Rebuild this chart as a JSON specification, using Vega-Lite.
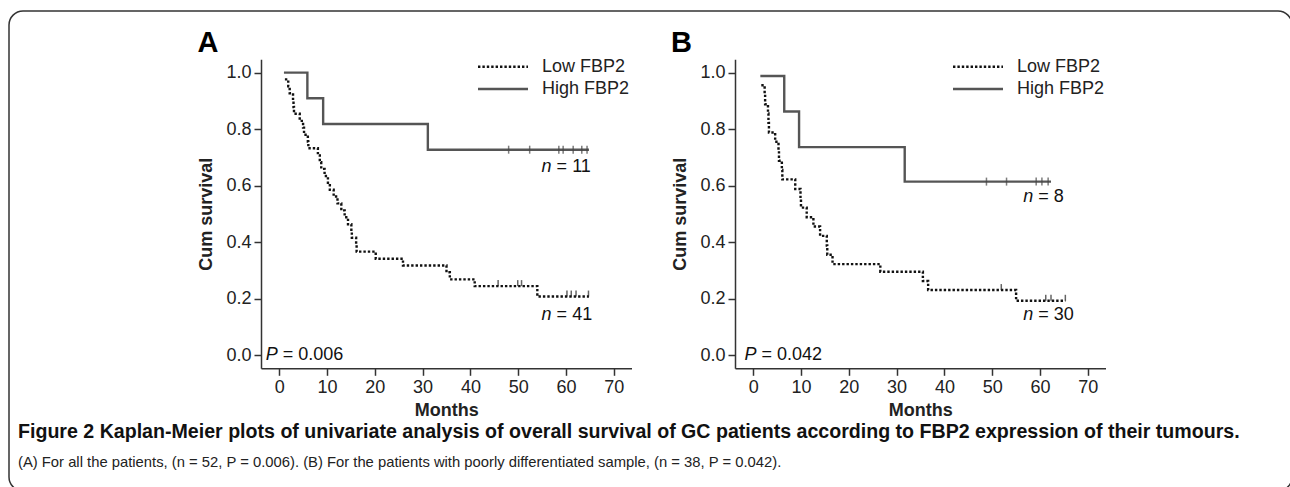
{
  "$schema": "https://vega.github.io/schema/vega-lite/v6.json",
  "width": 1283,
  "height": 480,
  "autosize": "none",
  "padding": {"left": 9, "top": 11, "right": -2, "bottom": -4},
  "background": "white",
  "datasets": {
    "curves": [
      {"panel": "A", "group": "High FBP2", "t": 1.0, "s": 1.0},
      {"panel": "A", "group": "High FBP2", "t": 5.9, "s": 0.909},
      {"panel": "A", "group": "High FBP2", "t": 9.2, "s": 0.818},
      {"panel": "A", "group": "High FBP2", "t": 31.1, "s": 0.727},
      {"panel": "A", "group": "High FBP2", "t": 64.8, "s": 0.727},
      {"panel": "A", "group": "Low FBP2", "t": 1.2, "s": 0.976},
      {"panel": "A", "group": "Low FBP2", "t": 1.9, "s": 0.951},
      {"panel": "A", "group": "Low FBP2", "t": 2.2, "s": 0.927},
      {"panel": "A", "group": "Low FBP2", "t": 2.9, "s": 0.902},
      {"panel": "A", "group": "Low FBP2", "t": 3.0, "s": 0.878},
      {"panel": "A", "group": "Low FBP2", "t": 3.1, "s": 0.854},
      {"panel": "A", "group": "Low FBP2", "t": 4.3, "s": 0.829},
      {"panel": "A", "group": "Low FBP2", "t": 5.0, "s": 0.805},
      {"panel": "A", "group": "Low FBP2", "t": 5.2, "s": 0.78},
      {"panel": "A", "group": "Low FBP2", "t": 6.0, "s": 0.756},
      {"panel": "A", "group": "Low FBP2", "t": 6.1, "s": 0.732},
      {"panel": "A", "group": "Low FBP2", "t": 8.1, "s": 0.707},
      {"panel": "A", "group": "Low FBP2", "t": 8.5, "s": 0.683},
      {"panel": "A", "group": "Low FBP2", "t": 8.8, "s": 0.659},
      {"panel": "A", "group": "Low FBP2", "t": 9.5, "s": 0.634},
      {"panel": "A", "group": "Low FBP2", "t": 10.2, "s": 0.61},
      {"panel": "A", "group": "Low FBP2", "t": 10.6, "s": 0.585},
      {"panel": "A", "group": "Low FBP2", "t": 11.4, "s": 0.561},
      {"panel": "A", "group": "Low FBP2", "t": 12.2, "s": 0.537},
      {"panel": "A", "group": "Low FBP2", "t": 13.0, "s": 0.512},
      {"panel": "A", "group": "Low FBP2", "t": 13.7, "s": 0.488},
      {"panel": "A", "group": "Low FBP2", "t": 14.4, "s": 0.463},
      {"panel": "A", "group": "Low FBP2", "t": 15.1, "s": 0.439},
      {"panel": "A", "group": "Low FBP2", "t": 15.2, "s": 0.415},
      {"panel": "A", "group": "Low FBP2", "t": 16.1, "s": 0.39},
      {"panel": "A", "group": "Low FBP2", "t": 16.2, "s": 0.366},
      {"panel": "A", "group": "Low FBP2", "t": 20.2, "s": 0.341},
      {"panel": "A", "group": "Low FBP2", "t": 25.9, "s": 0.317},
      {"panel": "A", "group": "Low FBP2", "t": 35.0, "s": 0.293},
      {"panel": "A", "group": "Low FBP2", "t": 35.7, "s": 0.268},
      {"panel": "A", "group": "Low FBP2", "t": 40.9, "s": 0.244},
      {"panel": "A", "group": "Low FBP2", "t": 54.0, "s": 0.207},
      {"panel": "A", "group": "Low FBP2", "t": 64.8, "s": 0.207},
      {"panel": "B", "group": "High FBP2", "t": 1.5, "s": 0.988},
      {"panel": "B", "group": "High FBP2", "t": 6.5, "s": 0.862},
      {"panel": "B", "group": "High FBP2", "t": 9.6, "s": 0.736},
      {"panel": "B", "group": "High FBP2", "t": 31.7, "s": 0.614},
      {"panel": "B", "group": "High FBP2", "t": 62.3, "s": 0.614},
      {"panel": "B", "group": "Low FBP2", "t": 1.7, "s": 0.955},
      {"panel": "B", "group": "Low FBP2", "t": 2.4, "s": 0.922},
      {"panel": "B", "group": "Low FBP2", "t": 2.5, "s": 0.888},
      {"panel": "B", "group": "Low FBP2", "t": 3.1, "s": 0.855},
      {"panel": "B", "group": "Low FBP2", "t": 3.2, "s": 0.822},
      {"panel": "B", "group": "Low FBP2", "t": 3.3, "s": 0.788},
      {"panel": "B", "group": "Low FBP2", "t": 4.6, "s": 0.755},
      {"panel": "B", "group": "Low FBP2", "t": 5.3, "s": 0.722},
      {"panel": "B", "group": "Low FBP2", "t": 5.4, "s": 0.688},
      {"panel": "B", "group": "Low FBP2", "t": 6.0, "s": 0.655},
      {"panel": "B", "group": "Low FBP2", "t": 6.1, "s": 0.622},
      {"panel": "B", "group": "Low FBP2", "t": 8.8, "s": 0.588},
      {"panel": "B", "group": "Low FBP2", "t": 9.9, "s": 0.555},
      {"panel": "B", "group": "Low FBP2", "t": 10.0, "s": 0.522},
      {"panel": "B", "group": "Low FBP2", "t": 11.2, "s": 0.488},
      {"panel": "B", "group": "Low FBP2", "t": 12.6, "s": 0.455},
      {"panel": "B", "group": "Low FBP2", "t": 14.0, "s": 0.422},
      {"panel": "B", "group": "Low FBP2", "t": 15.4, "s": 0.388},
      {"panel": "B", "group": "Low FBP2", "t": 15.5, "s": 0.355},
      {"panel": "B", "group": "Low FBP2", "t": 16.6, "s": 0.322},
      {"panel": "B", "group": "Low FBP2", "t": 26.6, "s": 0.295},
      {"panel": "B", "group": "Low FBP2", "t": 35.5, "s": 0.262},
      {"panel": "B", "group": "Low FBP2", "t": 36.6, "s": 0.23},
      {"panel": "B", "group": "Low FBP2", "t": 55.0, "s": 0.192},
      {"panel": "B", "group": "Low FBP2", "t": 65.3, "s": 0.192}
    ],
    "censor": [
      {"panel": "A", "group": "High FBP2", "t": 48.0, "s": 0.727},
      {"panel": "A", "group": "High FBP2", "t": 52.4, "s": 0.727},
      {"panel": "A", "group": "High FBP2", "t": 58.5, "s": 0.727},
      {"panel": "A", "group": "High FBP2", "t": 59.4, "s": 0.727},
      {"panel": "A", "group": "High FBP2", "t": 61.5, "s": 0.727},
      {"panel": "A", "group": "High FBP2", "t": 63.3, "s": 0.727},
      {"panel": "A", "group": "High FBP2", "t": 64.4, "s": 0.727},
      {"panel": "A", "group": "Low FBP2", "t": 45.8, "s": 0.244},
      {"panel": "A", "group": "Low FBP2", "t": 49.9, "s": 0.244},
      {"panel": "A", "group": "Low FBP2", "t": 50.7, "s": 0.244},
      {"panel": "A", "group": "Low FBP2", "t": 60.2, "s": 0.207},
      {"panel": "A", "group": "Low FBP2", "t": 61.1, "s": 0.207},
      {"panel": "A", "group": "Low FBP2", "t": 62.1, "s": 0.207},
      {"panel": "A", "group": "Low FBP2", "t": 64.7, "s": 0.207},
      {"panel": "B", "group": "High FBP2", "t": 48.8, "s": 0.614},
      {"panel": "B", "group": "High FBP2", "t": 53.0, "s": 0.614},
      {"panel": "B", "group": "High FBP2", "t": 59.2, "s": 0.614},
      {"panel": "B", "group": "High FBP2", "t": 60.4, "s": 0.614},
      {"panel": "B", "group": "High FBP2", "t": 61.7, "s": 0.614},
      {"panel": "B", "group": "Low FBP2", "t": 51.9, "s": 0.23},
      {"panel": "B", "group": "Low FBP2", "t": 61.2, "s": 0.192},
      {"panel": "B", "group": "Low FBP2", "t": 62.3, "s": 0.192},
      {"panel": "B", "group": "Low FBP2", "t": 65.3, "s": 0.192}
    ],
    "notes": [
      {"panel": "A", "it": "n", "rest": "= 11", "t": 57.2, "s": 0.666},
      {"panel": "A", "it": "n", "rest": "= 41", "t": 57.2, "s": 0.142},
      {"panel": "A", "it": "P", "rest": "= 0.006", "t": -0.1, "s": 0.0},
      {"panel": "B", "it": "n", "rest": "= 8", "t": 58.8, "s": 0.561},
      {"panel": "B", "it": "n", "rest": "= 30", "t": 58.8, "s": 0.142},
      {"panel": "B", "it": "P", "rest": "= 0.042", "t": 0.9, "s": 0.0}
    ],
    "letters": [
      {"panel": "A", "label": "A", "t": -17.1, "s": 1.073},
      {"panel": "B", "label": "B", "t": -17.2, "s": 1.073}
    ]
  },
  "title": {
    "text": "Figure 2 Kaplan-Meier plots of univariate analysis of overall survival of GC patients according to FBP2 expression of their tumours.",
    "subtitle": "(A) For all the patients, (n = 52, P = 0.006). (B) For the patients with poorly differentiated sample, (n = 38, P = 0.042).",
    "orient": "bottom",
    "anchor": "start",
    "frame": "group",
    "offset": -68,
    "dx": 9,
    "font": "Liberation Sans",
    "fontSize": 19.6,
    "fontWeight": "bold",
    "color": "#111111",
    "subtitleFont": "Liberation Sans",
    "subtitleFontSize": 14.8,
    "subtitleColor": "#222222",
    "subtitlePadding": 12
  },
  "layer": [
    {
      "encoding": {
        "x": {
          "field": "t", "type": "quantitative",
          "scale": {"domain": [-3.8, 73.7], "range": [252, 622.5], "nice": false, "zero": false},
          "axis": {"orient": "bottom", "offset": -122.7, "values": [0, 10, 20, 30, 40, 50, 60, 70], "title": "Months", "format": "d"}
        },
        "y": {
          "field": "s", "type": "quantitative",
          "scale": {"domain": [-0.047, 1.047], "range": [357.3, 48.3], "nice": false, "zero": false},
          "axis": {"orient": "left", "offset": -252, "values": [0, 0.2, 0.4, 0.6, 0.8, 1.0], "format": ".1f", "title": "Cum survival"}
        }
      },
      "layer": [
        {
          "data": {"name": "curves"},
          "transform": [{"filter": "datum.panel === 'A'"}],
          "mark": {"type": "line", "interpolate": "step-after", "strokeWidth": 2.4, "strokeCap": "butt"},
          "encoding": {
            "color": {"field": "group", "type": "nominal", "scale": {"domain": ["Low FBP2", "High FBP2"], "range": ["#111111", "#555555"]},
              "legend": {"title": null, "orient": "none", "legendX": 485, "legendY": 46.7}},
            "strokeDash": {"field": "group", "type": "nominal", "scale": {"domain": ["Low FBP2", "High FBP2"], "range": [[2.4, 2], [1, 0]]},
              "legend": {"title": null, "orient": "none", "legendX": 485, "legendY": 46.7}}
          }
        },
        {
          "data": {"name": "censor"},
          "transform": [{"filter": "datum.panel === 'A' && datum.group === 'High FBP2'"}],
          "mark": {"type": "tick", "orient": "vertical", "size": 8, "thickness": 1.5, "color": "#444444"}
        },
        {
          "data": {"name": "censor"},
          "transform": [{"filter": "datum.panel === 'A' && datum.group === 'Low FBP2'"}],
          "mark": {"type": "tick", "orient": "vertical", "size": 6, "thickness": 1.5, "color": "#222222", "yOffset": -3}
        },
        {
          "data": {"name": "notes"},
          "transform": [{"filter": "datum.panel === 'A'"}],
          "mark": {"type": "text", "align": "right", "baseline": "middle", "fontStyle": "italic", "fontSize": 18, "dx": -1, "color": "#111111"},
          "encoding": {"text": {"field": "it"}}
        },
        {
          "data": {"name": "notes"},
          "transform": [{"filter": "datum.panel === 'A'"}],
          "mark": {"type": "text", "align": "left", "baseline": "middle", "fontSize": 18, "dx": 4, "color": "#111111"},
          "encoding": {"text": {"field": "rest"}}
        },
        {
          "data": {"name": "letters"},
          "transform": [{"filter": "datum.panel === 'A'"}],
          "mark": {"type": "text", "align": "left", "baseline": "alphabetic", "fontSize": 29, "fontWeight": "bold", "color": "#000000"},
          "encoding": {"text": {"field": "label"}}
        }
      ]
    },
    {
      "encoding": {
        "x": {
          "field": "t", "type": "quantitative",
          "scale": {"domain": [-3.8, 73.7], "range": [726, 1096.5], "nice": false, "zero": false},
          "axis": {"orient": "bottom", "offset": -122.7, "values": [0, 10, 20, 30, 40, 50, 60, 70], "title": "Months", "format": "d"}
        },
        "y": {
          "field": "s", "type": "quantitative",
          "scale": {"domain": [-0.047, 1.047], "range": [357.3, 48.3], "nice": false, "zero": false},
          "axis": {"orient": "left", "offset": -726, "values": [0, 0.2, 0.4, 0.6, 0.8, 1.0], "format": ".1f", "title": "Cum survival"}
        }
      },
      "layer": [
        {
          "data": {"name": "curves"},
          "transform": [{"filter": "datum.panel === 'B'"}],
          "mark": {"type": "line", "interpolate": "step-after", "strokeWidth": 2.4, "strokeCap": "butt"},
          "encoding": {
            "color": {"field": "group", "type": "nominal", "scale": {"domain": ["Low FBP2", "High FBP2"], "range": ["#111111", "#555555"]},
              "legend": {"title": null, "orient": "none", "legendX": 960, "legendY": 46.7}},
            "strokeDash": {"field": "group", "type": "nominal", "scale": {"domain": ["Low FBP2", "High FBP2"], "range": [[2.4, 2], [1, 0]]},
              "legend": {"title": null, "orient": "none", "legendX": 960, "legendY": 46.7}}
          }
        },
        {
          "data": {"name": "censor"},
          "transform": [{"filter": "datum.panel === 'B' && datum.group === 'High FBP2'"}],
          "mark": {"type": "tick", "orient": "vertical", "size": 8, "thickness": 1.5, "color": "#444444"}
        },
        {
          "data": {"name": "censor"},
          "transform": [{"filter": "datum.panel === 'B' && datum.group === 'Low FBP2'"}],
          "mark": {"type": "tick", "orient": "vertical", "size": 6, "thickness": 1.5, "color": "#222222", "yOffset": -3}
        },
        {
          "data": {"name": "notes"},
          "transform": [{"filter": "datum.panel === 'B'"}],
          "mark": {"type": "text", "align": "right", "baseline": "middle", "fontStyle": "italic", "fontSize": 18, "dx": -1, "color": "#111111"},
          "encoding": {"text": {"field": "it"}}
        },
        {
          "data": {"name": "notes"},
          "transform": [{"filter": "datum.panel === 'B'"}],
          "mark": {"type": "text", "align": "left", "baseline": "middle", "fontSize": 18, "dx": 4, "color": "#111111"},
          "encoding": {"text": {"field": "rest"}}
        },
        {
          "data": {"name": "letters"},
          "transform": [{"filter": "datum.panel === 'B'"}],
          "mark": {"type": "text", "align": "left", "baseline": "alphabetic", "fontSize": 29, "fontWeight": "bold", "color": "#000000"},
          "encoding": {"text": {"field": "label"}}
        }
      ]
    }
  ],
  "resolve": {
    "scale": {"x": "independent", "y": "independent", "color": "independent", "strokeDash": "independent"},
    "axis": {"x": "independent", "y": "independent"},
    "legend": {"color": "independent", "strokeDash": "independent"}
  },
  "config": {
    "view": {"stroke": "#333333", "strokeWidth": 1.5, "cornerRadius": 14, "fill": "white"},
    "font": "Liberation Sans",
    "text": {"font": "Liberation Sans"},
    "axis": {
      "grid": false,
      "domainColor": "#333333",
      "domainWidth": 1.5,
      "tickColor": "#333333",
      "tickWidth": 1.5,
      "tickSize": 7,
      "labelFont": "Liberation Sans",
      "labelFontSize": 18,
      "labelColor": "#222222",
      "labelPadding": 3,
      "labelOverlap": false,
      "labelFlush": false,
      "titleFont": "Liberation Sans",
      "titleFontSize": 18,
      "titleFontWeight": "bold",
      "titleColor": "#222222"
    },
    "axisX": {"titlePadding": 5},
    "axisY": {"titlePadding": 10},
    "legend": {
      "symbolType": "M-5,0H5",
      "symbolSize": 100,
      "symbolStrokeWidth": 2.4,
      "labelFont": "Liberation Sans",
      "labelFontSize": 18,
      "labelColor": "#222222",
      "labelOffset": 30,
      "rowPadding": 4.3,
      "padding": 0
    }
  }
}
